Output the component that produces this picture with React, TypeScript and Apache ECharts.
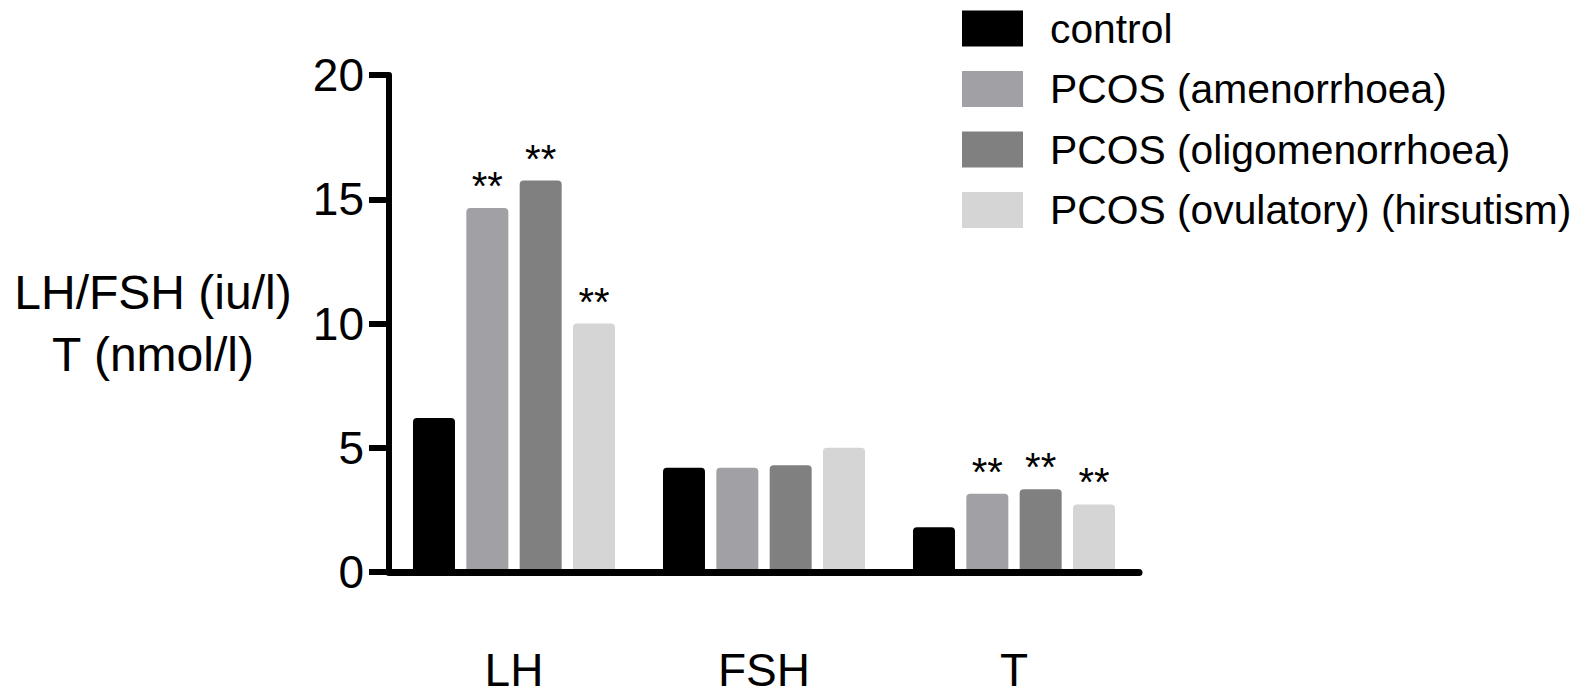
import React, { useEffect, useRef } from "react";
import * as echarts from "echarts";

const categories = ["LH", "FSH", "T"];
const seriesNames = [
  "control",
  "PCOS (amenorrhoea)",
  "PCOS (oligomenorrhoea)",
  "PCOS (ovulatory) (hirsutism)",
];
const controlValues = [6.2, 4.2, 1.8];
const amenorrhoeaValues = [14.65, 4.2, 3.15];
const oligomenorrhoeaValues = [15.75, 4.3, 3.33];
const ovulatoryValues = [10.0, 5.0, 2.72];
// significance markers per series per category
const controlMarks = ["", "", ""];
const amenorrhoeaMarks = ["**", "", "**"];
const oligomenorrhoeaMarks = ["**", "", "**"];
const ovulatoryMarks = ["**", "", "**"];
const yTicks = [0, 5, 10, 15, 20];
const colors = ["#000000", "#a1a1a5", "#808080", "#d5d5d5"];

const FONT = "'Liberation Sans', Arial, Helvetica, sans-serif";

export default function App() {
  const ref = useRef<HTMLDivElement>(null);

  useEffect(() => {
    if (!ref.current) return;
    const chart = echarts.init(ref.current, undefined, { renderer: "svg" });
    const allValues = [controlValues, amenorrhoeaValues, oligomenorrhoeaValues, ovulatoryValues];
    const allMarks = [controlMarks, amenorrhoeaMarks, oligomenorrhoeaMarks, ovulatoryMarks];

    const series = seriesNames.map((name, si) => ({
      name,
      type: "bar",
      barWidth: 42,
      barGap: "27%",
      itemStyle: { color: colors[si], borderRadius: [4, 4, 0, 0] },
      data: allValues[si].map((v, ci) => {
        const m = allMarks[si][ci];
        return m
          ? {
              value: v,
              label: {
                show: true,
                position: "top",
                distance: 2,
                formatter: m,
                fontSize: 40,
                fontFamily: FONT,
                color: "#000",
              },
            }
          : { value: v };
      }),
    }));

    chart.setOption({
      animation: false,
      backgroundColor: "#ffffff",
      textStyle: { fontFamily: FONT },
      legend: {
        orient: "vertical",
        left: 962,
        top: 8,
        padding: 0,
        itemWidth: 61,
        itemHeight: 36,
        itemGap: 19.5,
        icon: "rect",
        data: seriesNames,
        selectedMode: false,
        textStyle: {
          fontSize: 40.8,
          fontFamily: FONT,
          color: "#000",
          lineHeight: 36,
          padding: [0, 0, 0, 22],
        },
      },
      grid: {
        left: 389,
        top: 75,
        width: 750,
        height: 501,
        containLabel: false,
      },
      xAxis: {
        type: "category",
        data: categories,
        z: 10,
        axisLine: { lineStyle: { color: "#000", width: 7 } },
        axisTick: {
          alignWithLabel: true,
          length: 20,
          lineStyle: { color: "#000", width: 6 },
        },
        axisLabel: {
          fontSize: 46,
          fontFamily: FONT,
          color: "#000",
          lineHeight: 34,
          margin: 81,
        },
        splitLine: { show: false },
      },
      yAxis: {
        type: "value",
        min: yTicks[0],
        max: yTicks[yTicks.length - 1],
        interval: 5,
        z: 10,
        name: "LH/FSH (iu/l)\nT (nmol/l)",
        nameLocation: "middle",
        nameRotate: 0,
        nameGap: 236,
        nameTextStyle: {
          fontSize: 48,
          fontFamily: FONT,
          color: "#000",
          lineHeight: 62,
          align: "center",
        },
        axisLine: { show: true, lineStyle: { color: "#000", width: 6 } },
        axisTick: { show: true, length: 20, lineStyle: { color: "#000", width: 6 } },
        axisLabel: {
          fontSize: 46,
          fontFamily: FONT,
          color: "#000",
          margin: 25,
        },
        splitLine: { show: false },
      },
      series,
    });

    return () => chart.dispose();
  }, []);

  return (
    <div
      ref={ref}
      style={{ position: "fixed", left: 0, top: 0, width: 1582, height: 693, background: "#fff" }}
    />
  );
}
